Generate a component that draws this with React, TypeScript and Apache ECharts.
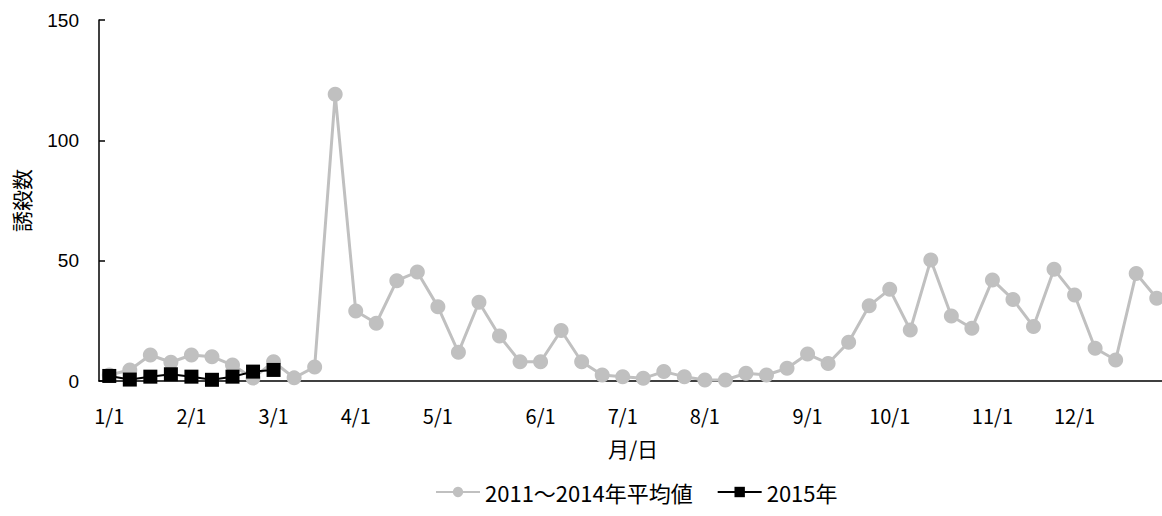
import React, { useEffect, useRef } from "react";
import * as echarts from "echarts";

const tickLabels = ["1/1", "2/1", "3/1", "4/1", "5/1", "6/1", "7/1", "8/1", "9/1", "10/1", "11/1", "12/1"];
const tickIndex = [0, 4, 8, 12, 16, 21, 25, 29, 34, 38, 43, 47];
const weekCount = 52;

const avg2011to2014 = [
  2.5, 4.6, 10.8, 7.8, 10.8, 10.1, 6.6, 1.2, 8.0, 1.3, 5.8, 119.1, 29.1, 24.0, 41.7, 45.3, 30.9, 11.9,
  32.7, 18.7, 8.0, 8.0, 21.0, 8.0, 2.5, 1.8, 1.1, 3.9, 1.8, 0.4, 0.4, 3.2, 2.5, 5.3, 11.2, 7.3, 16.1,
  31.3, 38.1, 21.2, 50.3, 27.0, 21.9, 42.0, 33.9, 22.6, 46.4, 35.7, 13.6, 8.7, 44.7, 34.4,
];
const year2015 = [2.1, 0.6, 1.8, 2.8, 1.8, 0.5, 1.8, 3.9, 4.6];

const seriesNames = ["2011～2014年平均値", "2015年"];
const yTitle = "誘殺数";
const xTitle = "月/日";

const cjk = '"Noto Sans CJK JP", "Noto Sans", sans-serif';

export default function App() {
  const ref = useRef<HTMLDivElement>(null);
  useEffect(() => {
    if (!ref.current) return;
    const chart = echarts.init(ref.current, null, { renderer: "svg" });
    const categories: string[] = [];
    for (let i = 0; i < weekCount; i++) {
      const k = tickIndex.indexOf(i);
      categories.push(k >= 0 ? tickLabels[k] : "");
    }
    chart.setOption({
      animation: false,
      backgroundColor: "#ffffff",
      grid: { left: 99, top: 20, width: 1068, height: 361, containLabel: false },
      legend: {
        left: 430,
        top: 476,
        itemWidth: 44,
        itemHeight: 13,
        itemGap: 24,
        textStyle: { fontFamily: cjk, fontSize: 22, color: "#000" },
        data: seriesNames,
      },
      xAxis: {
        type: "category",
        data: categories,
        boundaryGap: true,
        name: xTitle,
        nameLocation: "middle",
        nameGap: 56,
        nameTextStyle: { fontFamily: cjk, fontSize: 21, color: "#000" },
        axisLine: { show: true, lineStyle: { color: "#000", width: 1.5 } },
        axisTick: { show: false },
        axisLabel: { interval: 0, margin: 24, fontFamily: cjk, fontSize: 20, color: "#000" },
        splitLine: { show: false },
      },
      yAxis: {
        type: "value",
        min: 0,
        max: 150,
        interval: 50,
        name: yTitle,
        nameLocation: "middle",
        nameRotate: 90,
        nameGap: 68,
        nameTextStyle: { fontFamily: cjk, fontSize: 21, color: "#000" },
        axisLine: { show: true, lineStyle: { color: "#000", width: 1.5 } },
        axisTick: { show: true, inside: true, length: 6, lineStyle: { color: "#000", width: 1.5 } },
        axisLabel: { margin: 20, fontFamily: '"Liberation Sans", Arial, sans-serif', fontSize: 19, color: "#000" },
        splitLine: { show: false },
      },
      series: [
        {
          name: seriesNames[0],
          type: "line",
          data: avg2011to2014,
          symbol: "circle",
          symbolSize: 15,
          itemStyle: { color: "#c0c0c0" },
          lineStyle: { color: "#c0c0c0", width: 3 },
          z: 2,
        },
        {
          name: seriesNames[1],
          type: "line",
          data: year2015,
          symbol: "rect",
          symbolSize: 14,
          itemStyle: { color: "#000" },
          lineStyle: { color: "#000", width: 2 },
          z: 3,
        },
      ],
    });
    return () => chart.dispose();
  }, []);
  return (
    <div
      ref={ref}
      style={{ position: "fixed", left: 0, top: 0, width: 1172, height: 516, background: "#fff" }}
    />
  );
}
